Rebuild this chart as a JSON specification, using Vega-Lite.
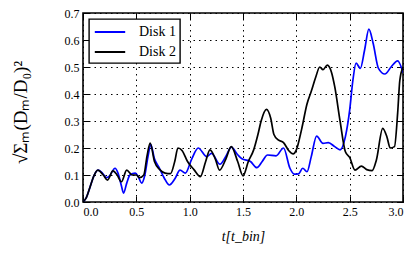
{
  "$schema": "https://vega.github.io/schema/vega-lite/v6.json",
  "autosize": "none",
  "padding": {"left": 83, "top": 13, "right": 12, "bottom": 55},
  "width": 320,
  "height": 189,
  "background": "white",
  "config": {
    "view": {"stroke": "black", "strokeWidth": 1.6},
    "font": "Liberation Serif",
    "axis": {
      "labelFont": "Liberation Serif",
      "titleFont": "Liberation Serif",
      "labelFontSize": 12,
      "titleFontSize": 13,
      "labelColor": "black",
      "titleColor": "black",
      "titleFontWeight": "normal",
      "domain": false,
      "tickColor": "black",
      "tickSize": -6,
      "tickWidth": 1,
      "labelPadding": 10
    }
  },
  "data": {
    "values": [
      {"t": 0.0, "v": 0.0, "disk": "Disk 1"},
      {"t": 0.03, "v": 0.015, "disk": "Disk 1"},
      {"t": 0.07, "v": 0.06, "disk": "Disk 1"},
      {"t": 0.1, "v": 0.095, "disk": "Disk 1"},
      {"t": 0.14, "v": 0.118, "disk": "Disk 1"},
      {"t": 0.18, "v": 0.108, "disk": "Disk 1"},
      {"t": 0.22, "v": 0.09, "disk": "Disk 1"},
      {"t": 0.25, "v": 0.097, "disk": "Disk 1"},
      {"t": 0.3, "v": 0.125, "disk": "Disk 1"},
      {"t": 0.33, "v": 0.105, "disk": "Disk 1"},
      {"t": 0.36, "v": 0.06, "disk": "Disk 1"},
      {"t": 0.38, "v": 0.033, "disk": "Disk 1"},
      {"t": 0.41, "v": 0.07, "disk": "Disk 1"},
      {"t": 0.44, "v": 0.1, "disk": "Disk 1"},
      {"t": 0.49, "v": 0.107, "disk": "Disk 1"},
      {"t": 0.52, "v": 0.092, "disk": "Disk 1"},
      {"t": 0.55, "v": 0.07, "disk": "Disk 1"},
      {"t": 0.58, "v": 0.1, "disk": "Disk 1"},
      {"t": 0.61, "v": 0.17, "disk": "Disk 1"},
      {"t": 0.635, "v": 0.213, "disk": "Disk 1"},
      {"t": 0.67, "v": 0.16, "disk": "Disk 1"},
      {"t": 0.71, "v": 0.13, "disk": "Disk 1"},
      {"t": 0.76, "v": 0.09, "disk": "Disk 1"},
      {"t": 0.81, "v": 0.063, "disk": "Disk 1"},
      {"t": 0.86, "v": 0.085, "disk": "Disk 1"},
      {"t": 0.91, "v": 0.118, "disk": "Disk 1"},
      {"t": 0.96, "v": 0.107, "disk": "Disk 1"},
      {"t": 1.02, "v": 0.16, "disk": "Disk 1"},
      {"t": 1.08, "v": 0.2, "disk": "Disk 1"},
      {"t": 1.16, "v": 0.168, "disk": "Disk 1"},
      {"t": 1.205, "v": 0.18, "disk": "Disk 1"},
      {"t": 1.284, "v": 0.14, "disk": "Disk 1"},
      {"t": 1.34, "v": 0.17, "disk": "Disk 1"},
      {"t": 1.39, "v": 0.203, "disk": "Disk 1"},
      {"t": 1.45, "v": 0.175, "disk": "Disk 1"},
      {"t": 1.49, "v": 0.16, "disk": "Disk 1"},
      {"t": 1.57, "v": 0.15, "disk": "Disk 1"},
      {"t": 1.63, "v": 0.127, "disk": "Disk 1"},
      {"t": 1.68, "v": 0.15, "disk": "Disk 1"},
      {"t": 1.73, "v": 0.174, "disk": "Disk 1"},
      {"t": 1.81, "v": 0.171, "disk": "Disk 1"},
      {"t": 1.88, "v": 0.2, "disk": "Disk 1"},
      {"t": 1.94, "v": 0.125, "disk": "Disk 1"},
      {"t": 1.98, "v": 0.103, "disk": "Disk 1"},
      {"t": 2.02, "v": 0.104, "disk": "Disk 1"},
      {"t": 2.06, "v": 0.125, "disk": "Disk 1"},
      {"t": 2.1, "v": 0.112, "disk": "Disk 1"},
      {"t": 2.14, "v": 0.168, "disk": "Disk 1"},
      {"t": 2.19, "v": 0.244, "disk": "Disk 1"},
      {"t": 2.25, "v": 0.217, "disk": "Disk 1"},
      {"t": 2.3, "v": 0.22, "disk": "Disk 1"},
      {"t": 2.36, "v": 0.205, "disk": "Disk 1"},
      {"t": 2.41, "v": 0.193, "disk": "Disk 1"},
      {"t": 2.46, "v": 0.242, "disk": "Disk 1"},
      {"t": 2.5, "v": 0.34, "disk": "Disk 1"},
      {"t": 2.53, "v": 0.45, "disk": "Disk 1"},
      {"t": 2.56, "v": 0.514, "disk": "Disk 1"},
      {"t": 2.6, "v": 0.495, "disk": "Disk 1"},
      {"t": 2.64, "v": 0.563, "disk": "Disk 1"},
      {"t": 2.68, "v": 0.64, "disk": "Disk 1"},
      {"t": 2.72, "v": 0.588, "disk": "Disk 1"},
      {"t": 2.77, "v": 0.495, "disk": "Disk 1"},
      {"t": 2.83, "v": 0.474, "disk": "Disk 1"},
      {"t": 2.89, "v": 0.501, "disk": "Disk 1"},
      {"t": 2.95, "v": 0.523, "disk": "Disk 1"},
      {"t": 3.0, "v": 0.48, "disk": "Disk 1"},
      {"t": 0.0, "v": 0.0, "disk": "Disk 2"},
      {"t": 0.03, "v": 0.015, "disk": "Disk 2"},
      {"t": 0.07, "v": 0.06, "disk": "Disk 2"},
      {"t": 0.1, "v": 0.095, "disk": "Disk 2"},
      {"t": 0.14, "v": 0.118, "disk": "Disk 2"},
      {"t": 0.19, "v": 0.1, "disk": "Disk 2"},
      {"t": 0.23, "v": 0.081, "disk": "Disk 2"},
      {"t": 0.28, "v": 0.115, "disk": "Disk 2"},
      {"t": 0.32, "v": 0.1, "disk": "Disk 2"},
      {"t": 0.36, "v": 0.075, "disk": "Disk 2"},
      {"t": 0.41, "v": 0.118, "disk": "Disk 2"},
      {"t": 0.46, "v": 0.1, "disk": "Disk 2"},
      {"t": 0.5, "v": 0.1, "disk": "Disk 2"},
      {"t": 0.53, "v": 0.09, "disk": "Disk 2"},
      {"t": 0.57, "v": 0.1, "disk": "Disk 2"},
      {"t": 0.6, "v": 0.17, "disk": "Disk 2"},
      {"t": 0.63, "v": 0.218, "disk": "Disk 2"},
      {"t": 0.67, "v": 0.15, "disk": "Disk 2"},
      {"t": 0.72, "v": 0.12, "disk": "Disk 2"},
      {"t": 0.77, "v": 0.107, "disk": "Disk 2"},
      {"t": 0.82, "v": 0.105, "disk": "Disk 2"},
      {"t": 0.86, "v": 0.15, "disk": "Disk 2"},
      {"t": 0.89, "v": 0.2, "disk": "Disk 2"},
      {"t": 0.93, "v": 0.19, "disk": "Disk 2"},
      {"t": 0.98, "v": 0.15, "disk": "Disk 2"},
      {"t": 1.04, "v": 0.12, "disk": "Disk 2"},
      {"t": 1.1, "v": 0.094, "disk": "Disk 2"},
      {"t": 1.15, "v": 0.15, "disk": "Disk 2"},
      {"t": 1.19, "v": 0.193, "disk": "Disk 2"},
      {"t": 1.24, "v": 0.16, "disk": "Disk 2"},
      {"t": 1.28, "v": 0.118, "disk": "Disk 2"},
      {"t": 1.34, "v": 0.16, "disk": "Disk 2"},
      {"t": 1.39, "v": 0.205, "disk": "Disk 2"},
      {"t": 1.45, "v": 0.15, "disk": "Disk 2"},
      {"t": 1.5, "v": 0.097, "disk": "Disk 2"},
      {"t": 1.55, "v": 0.15, "disk": "Disk 2"},
      {"t": 1.6, "v": 0.193, "disk": "Disk 2"},
      {"t": 1.64, "v": 0.25, "disk": "Disk 2"},
      {"t": 1.67, "v": 0.3, "disk": "Disk 2"},
      {"t": 1.72, "v": 0.343, "disk": "Disk 2"},
      {"t": 1.76, "v": 0.31, "disk": "Disk 2"},
      {"t": 1.79, "v": 0.25, "disk": "Disk 2"},
      {"t": 1.83, "v": 0.23, "disk": "Disk 2"},
      {"t": 1.88, "v": 0.22, "disk": "Disk 2"},
      {"t": 1.93, "v": 0.19, "disk": "Disk 2"},
      {"t": 1.97, "v": 0.178, "disk": "Disk 2"},
      {"t": 2.0, "v": 0.193, "disk": "Disk 2"},
      {"t": 2.05, "v": 0.27, "disk": "Disk 2"},
      {"t": 2.1, "v": 0.363, "disk": "Disk 2"},
      {"t": 2.14, "v": 0.41, "disk": "Disk 2"},
      {"t": 2.18, "v": 0.46, "disk": "Disk 2"},
      {"t": 2.22, "v": 0.5, "disk": "Disk 2"},
      {"t": 2.25, "v": 0.49, "disk": "Disk 2"},
      {"t": 2.29, "v": 0.507, "disk": "Disk 2"},
      {"t": 2.33, "v": 0.48, "disk": "Disk 2"},
      {"t": 2.36, "v": 0.427, "disk": "Disk 2"},
      {"t": 2.41, "v": 0.3, "disk": "Disk 2"},
      {"t": 2.46, "v": 0.186, "disk": "Disk 2"},
      {"t": 2.5, "v": 0.165, "disk": "Disk 2"},
      {"t": 2.55, "v": 0.118, "disk": "Disk 2"},
      {"t": 2.61, "v": 0.133, "disk": "Disk 2"},
      {"t": 2.66, "v": 0.12, "disk": "Disk 2"},
      {"t": 2.71, "v": 0.116, "disk": "Disk 2"},
      {"t": 2.75, "v": 0.155, "disk": "Disk 2"},
      {"t": 2.81, "v": 0.273, "disk": "Disk 2"},
      {"t": 2.85, "v": 0.24, "disk": "Disk 2"},
      {"t": 2.88, "v": 0.2, "disk": "Disk 2"},
      {"t": 2.92, "v": 0.205, "disk": "Disk 2"},
      {"t": 2.95, "v": 0.33, "disk": "Disk 2"},
      {"t": 2.97, "v": 0.45, "disk": "Disk 2"},
      {"t": 3.0, "v": 0.5, "disk": "Disk 2"}
    ]
  },
  "layer": [
    {
      "mark": {"type": "line", "strokeWidth": 1.7, "interpolate": "monotone", "clip": true},
      "encoding": {
        "x": {
          "field": "t", "type": "quantitative",
          "scale": {"domain": [0, 3], "nice": false, "zero": false},
          "axis": {
            "orient": "bottom",
            "values": [0, 0.5, 1, 1.5, 2, 2.5, 3],
            "format": ".1f",
            "title": "t[t_bin]",
            "titleFontStyle": "italic",
            "titleFontSize": 14,
            "titlePadding": 12,
            "grid": true,
            "gridColor": "black",
            "gridDash": [1.5, 4],
            "gridWidth": 1,
            "gridOpacity": 1
          }
        },
        "y": {
          "field": "v", "type": "quantitative",
          "scale": {"domain": [0, 0.7], "nice": false},
          "axis": {
            "orient": "left",
            "values": [0, 0.1, 0.2, 0.3, 0.4, 0.5, 0.6, 0.7],
            "format": ".1f",
            "title": "√Σₘ(Dₘ/D₀)²",
            "titleFontSize": 19,
            "titleAngle": -90,
            "titleAlign": "center",
            "titleBaseline": "middle",
            "titleX": -63,
            "titleY": 99,
            "grid": true,
            "gridColor": "black",
            "gridDash": [1.5, 4],
            "gridWidth": 1,
            "gridOpacity": 1
          }
        },
        "color": {
          "field": "disk", "type": "nominal",
          "scale": {"domain": ["Disk 1", "Disk 2"], "range": ["#0000ff", "#000000"]},
          "legend": {
            "title": null,
            "orient": "top-left",
            "offset": 6,
            "symbolType": "M-1.9,0H1.9",
            "symbolSize": 256,
            "symbolOffset": 8,
            "symbolStrokeWidth": 2,
            "labelFont": "Liberation Serif",
            "labelFontSize": 14,
            "labelColor": "black",
            "labelOffset": 20,
            "strokeColor": "black",
            "fillColor": "white",
            "padding": 4,
            "rowPadding": 4,
            "encode": {"legend": {"update": {"strokeWidth": {"value": 1.4}}}}
          }
        }
      }
    },
    {
      "mark": {"type": "point", "opacity": 0},
      "encoding": {
        "x": {
          "field": "t", "type": "quantitative",
          "axis": {"orient": "top", "values": [0, 0.5, 1, 1.5, 2, 2.5, 3], "labels": false, "title": null, "grid": false}
        },
        "y": {
          "field": "v", "type": "quantitative",
          "axis": {"orient": "right", "values": [0, 0.1, 0.2, 0.3, 0.4, 0.5, 0.6, 0.7], "labels": false, "title": null, "grid": false}
        }
      }
    }
  ],
  "resolve": {"axis": {"x": "independent", "y": "independent"}}
}
